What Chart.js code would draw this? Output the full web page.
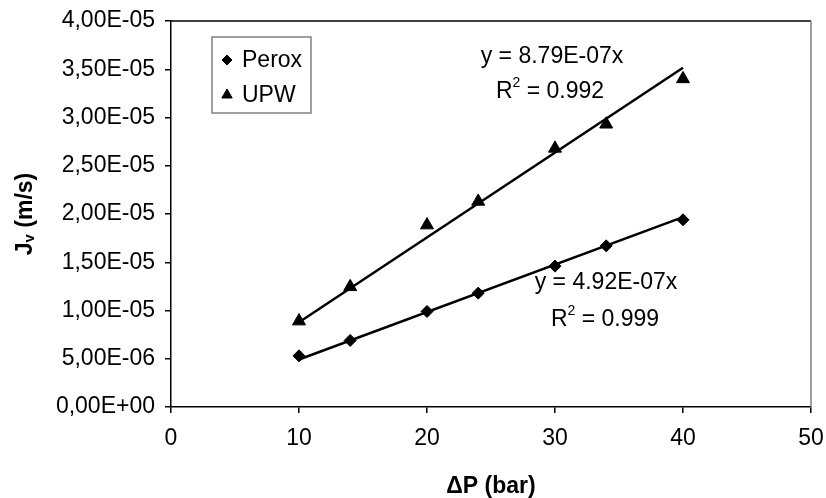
<!DOCTYPE html>
<html>
<head>
<meta charset="utf-8">
<script src="https://cdn.jsdelivr.net/npm/chart.js@4"></script>
<style>
  html, body { margin: 0; padding: 0; background: #fff; }
  #wrap { width: 826px; height: 498px; }
</style>
</head>
<body>
<div id="wrap"><canvas id="fluxChart" width="826" height="498"></canvas></div>
<script>
// pressure (bar)
const pressure = [10, 14, 20, 24, 30, 34, 40];
// flux Jv (m/s)
const peroxFlux = [5.3e-6, 6.9e-6, 9.9e-6, 1.18e-5, 1.46e-5, 1.67e-5, 1.94e-5];
const upwFlux = [8.9e-6, 1.245e-5, 1.885e-5, 2.13e-5, 2.68e-5, 2.93e-5, 3.40e-5];
// trend lines (through origin), ends at 10 and 40 bar
const fitX = [10, 40];
const peroxFit = [4.92e-6, 1.968e-5];
const upwFit = [8.79e-6, 3.516e-5];
const fitLabels = [
  { eq: 'y = 8.79E-07x', r2: '0.992' },
  { eq: 'y = 4.92E-07x', r2: '0.999' }
];

const FONT = '"Liberation Sans", Arial, sans-serif';
const FS = 23;

function pts(xs, ys) {
  return xs.map((x, i) => ({ x: x, y: ys[i] }));
}

function fmtSci(v) {
  let s = Number(v).toExponential(2);          // 4.00e-5
  let [m, e] = s.split('e');
  let sign = e[0] === '-' ? '-' : '+';
  let ex = Math.abs(parseInt(e, 10)).toString().padStart(2, '0');
  return m.replace('.', ',') + 'E' + sign + ex;
}

const extras = {
  id: 'extras',
  afterDraw(chart) {
    const c = chart.ctx;
    const a = chart.chartArea;
    c.save();
    // top + right frame
    c.lineWidth = 1.5;
    c.strokeStyle = '#000';
    c.beginPath();
    c.moveTo(a.left, a.top);
    c.lineTo(a.right, a.top);
    c.stroke();
    c.strokeStyle = '#808080';
    c.beginPath();
    c.moveTo(a.right, a.top);
    c.lineTo(a.right, a.bottom);
    c.stroke();

    // axis titles
    c.fillStyle = '#000';
    c.font = 'bold ' + FS + 'px ' + FONT;
    c.textAlign = 'center';
    c.textBaseline = 'middle';
    c.fillText('\u0394P (bar)', (a.left + a.right) / 2, 487);

    c.save();
    c.translate(26, (a.top + a.bottom) / 2);
    c.rotate(-Math.PI / 2);
    const t1 = 'J', t2 = 'v', t3 = ' (m/s)';
    c.font = 'bold ' + FS + 'px ' + FONT;
    const w1 = c.measureText(t1).width;
    const w3 = c.measureText(t3).width;
    c.font = 'bold 15px ' + FONT;
    const w2 = c.measureText(t2).width;
    let x0 = -(w1 + w2 + w3) / 2;
    c.textAlign = 'left';
    c.font = 'bold ' + FS + 'px ' + FONT;
    c.fillText(t1, x0, 0);
    c.font = 'bold 15px ' + FONT;
    c.fillText(t2, x0 + w1, 4);
    c.font = 'bold ' + FS + 'px ' + FONT;
    c.fillText(t3, x0 + w1 + w2, 0);
    c.restore();

    // trend equations
    const drawR2 = (cx, cy, val) => {
      c.font = FS + 'px ' + FONT;
      const wa = c.measureText('R').width;
      const wc = c.measureText(' = ' + val).width;
      c.font = '14px ' + FONT;
      const wb = c.measureText('2').width;
      let x = cx - (wa + wb + wc) / 2;
      c.textAlign = 'left';
      c.font = FS + 'px ' + FONT;
      c.fillText('R', x, cy);
      c.font = '14px ' + FONT;
      c.fillText('2', x + wa, cy - 9);
      c.font = FS + 'px ' + FONT;
      c.fillText(' = ' + val, x + wa + wb, cy);
    };
    c.font = FS + 'px ' + FONT;
    c.textAlign = 'center';
    c.fillText(fitLabels[0].eq, 552, 57);
    drawR2(550, 92, fitLabels[0].r2);
    c.font = FS + 'px ' + FONT;
    c.textAlign = 'center';
    c.fillText(fitLabels[1].eq, 606, 283);
    drawR2(605, 320, fitLabels[1].r2);

    // legend box
    const lx = 212, ly = 37, lw = 99, lh = 76;
    c.fillStyle = '#fff';
    c.fillRect(lx, ly, lw, lh);
    c.strokeStyle = '#808080';
    c.lineWidth = 1.5;
    c.strokeRect(lx, ly, lw, lh);
    const items = [
      { ds: chart.data.datasets[0], y: 60 },
      { ds: chart.data.datasets[1], y: 95 }
    ];
    items.forEach(it => {
      c.fillStyle = '#000';
      c.strokeStyle = '#000';
      c.lineWidth = 1;
      Chart.helpers.drawPoint(c, {
        pointStyle: it.ds.pointStyle,
        radius: it.ds.pointStyle === 'triangle' ? 6 : 5,
        rotation: 0,
        borderWidth: 1
      }, 227, it.y);
      c.fillStyle = '#000';
      c.font = FS + 'px ' + FONT;
      c.textAlign = 'left';
      c.textBaseline = 'middle';
      c.fillText(it.ds.label, 242, it.y + 1);
    });
    c.restore();
  }
};

new Chart(document.getElementById('fluxChart'), {
  type: 'scatter',
  data: {
    datasets: [
      {
        label: 'Perox',
        data: pts(pressure, peroxFlux),
        pointStyle: 'rectRot',
        pointRadius: 6,
        backgroundColor: '#000',
        borderColor: '#000',
        showLine: false,
        order: 1
      },
      {
        label: 'UPW',
        data: pts(pressure, upwFlux),
        pointStyle: 'triangle',
        pointRadius: 7.5,
        backgroundColor: '#000',
        borderColor: '#000',
        showLine: false,
        order: 1
      },
      {
        label: 'Perox fit',
        data: pts(fitX, peroxFit),
        showLine: true,
        pointRadius: 0,
        borderColor: '#000',
        borderWidth: 2.5,
        order: 2
      },
      {
        label: 'UPW fit',
        data: pts(fitX, upwFit),
        showLine: true,
        pointRadius: 0,
        borderColor: '#000',
        borderWidth: 2.5,
        order: 2
      }
    ]
  },
  options: {
    responsive: false,
    animation: false,
    layout: { padding: { top: 21, right: 15, left: 0, bottom: 0 } },
    plugins: {
      legend: { display: false },
      tooltip: { enabled: false }
    },
    scales: {
      x: {
        type: 'linear',
        min: 0,
        max: 50,
        ticks: {
          stepSize: 10,
          color: '#000',
          font: { family: FONT, size: FS },
          padding: 12
        },
        grid: { drawOnChartArea: false, drawTicks: true, tickLength: 6, color: '#000', lineWidth: 1.5 },
        border: { color: '#000', width: 1.5 },
        afterFit(scale) {
          scale.height = 91;
          scale.paddingLeft = 0;
          scale.paddingRight = 0;
        }
      },
      y: {
        min: 0,
        max: 4e-5,
        ticks: {
          stepSize: 5e-6,
          color: '#000',
          font: { family: FONT, size: FS },
          padding: 10,
          callback: v => fmtSci(v)
        },
        grid: { drawOnChartArea: false, drawTicks: true, tickLength: 6, color: '#000', lineWidth: 1.5 },
        border: { color: '#000', width: 1.5 },
        afterFit(scale) {
          scale.width = 171;
          scale.paddingTop = 0;
          scale.paddingBottom = 0;
        }
      }
    }
  },
  plugins: [extras]
});
</script>
</body>
</html>
